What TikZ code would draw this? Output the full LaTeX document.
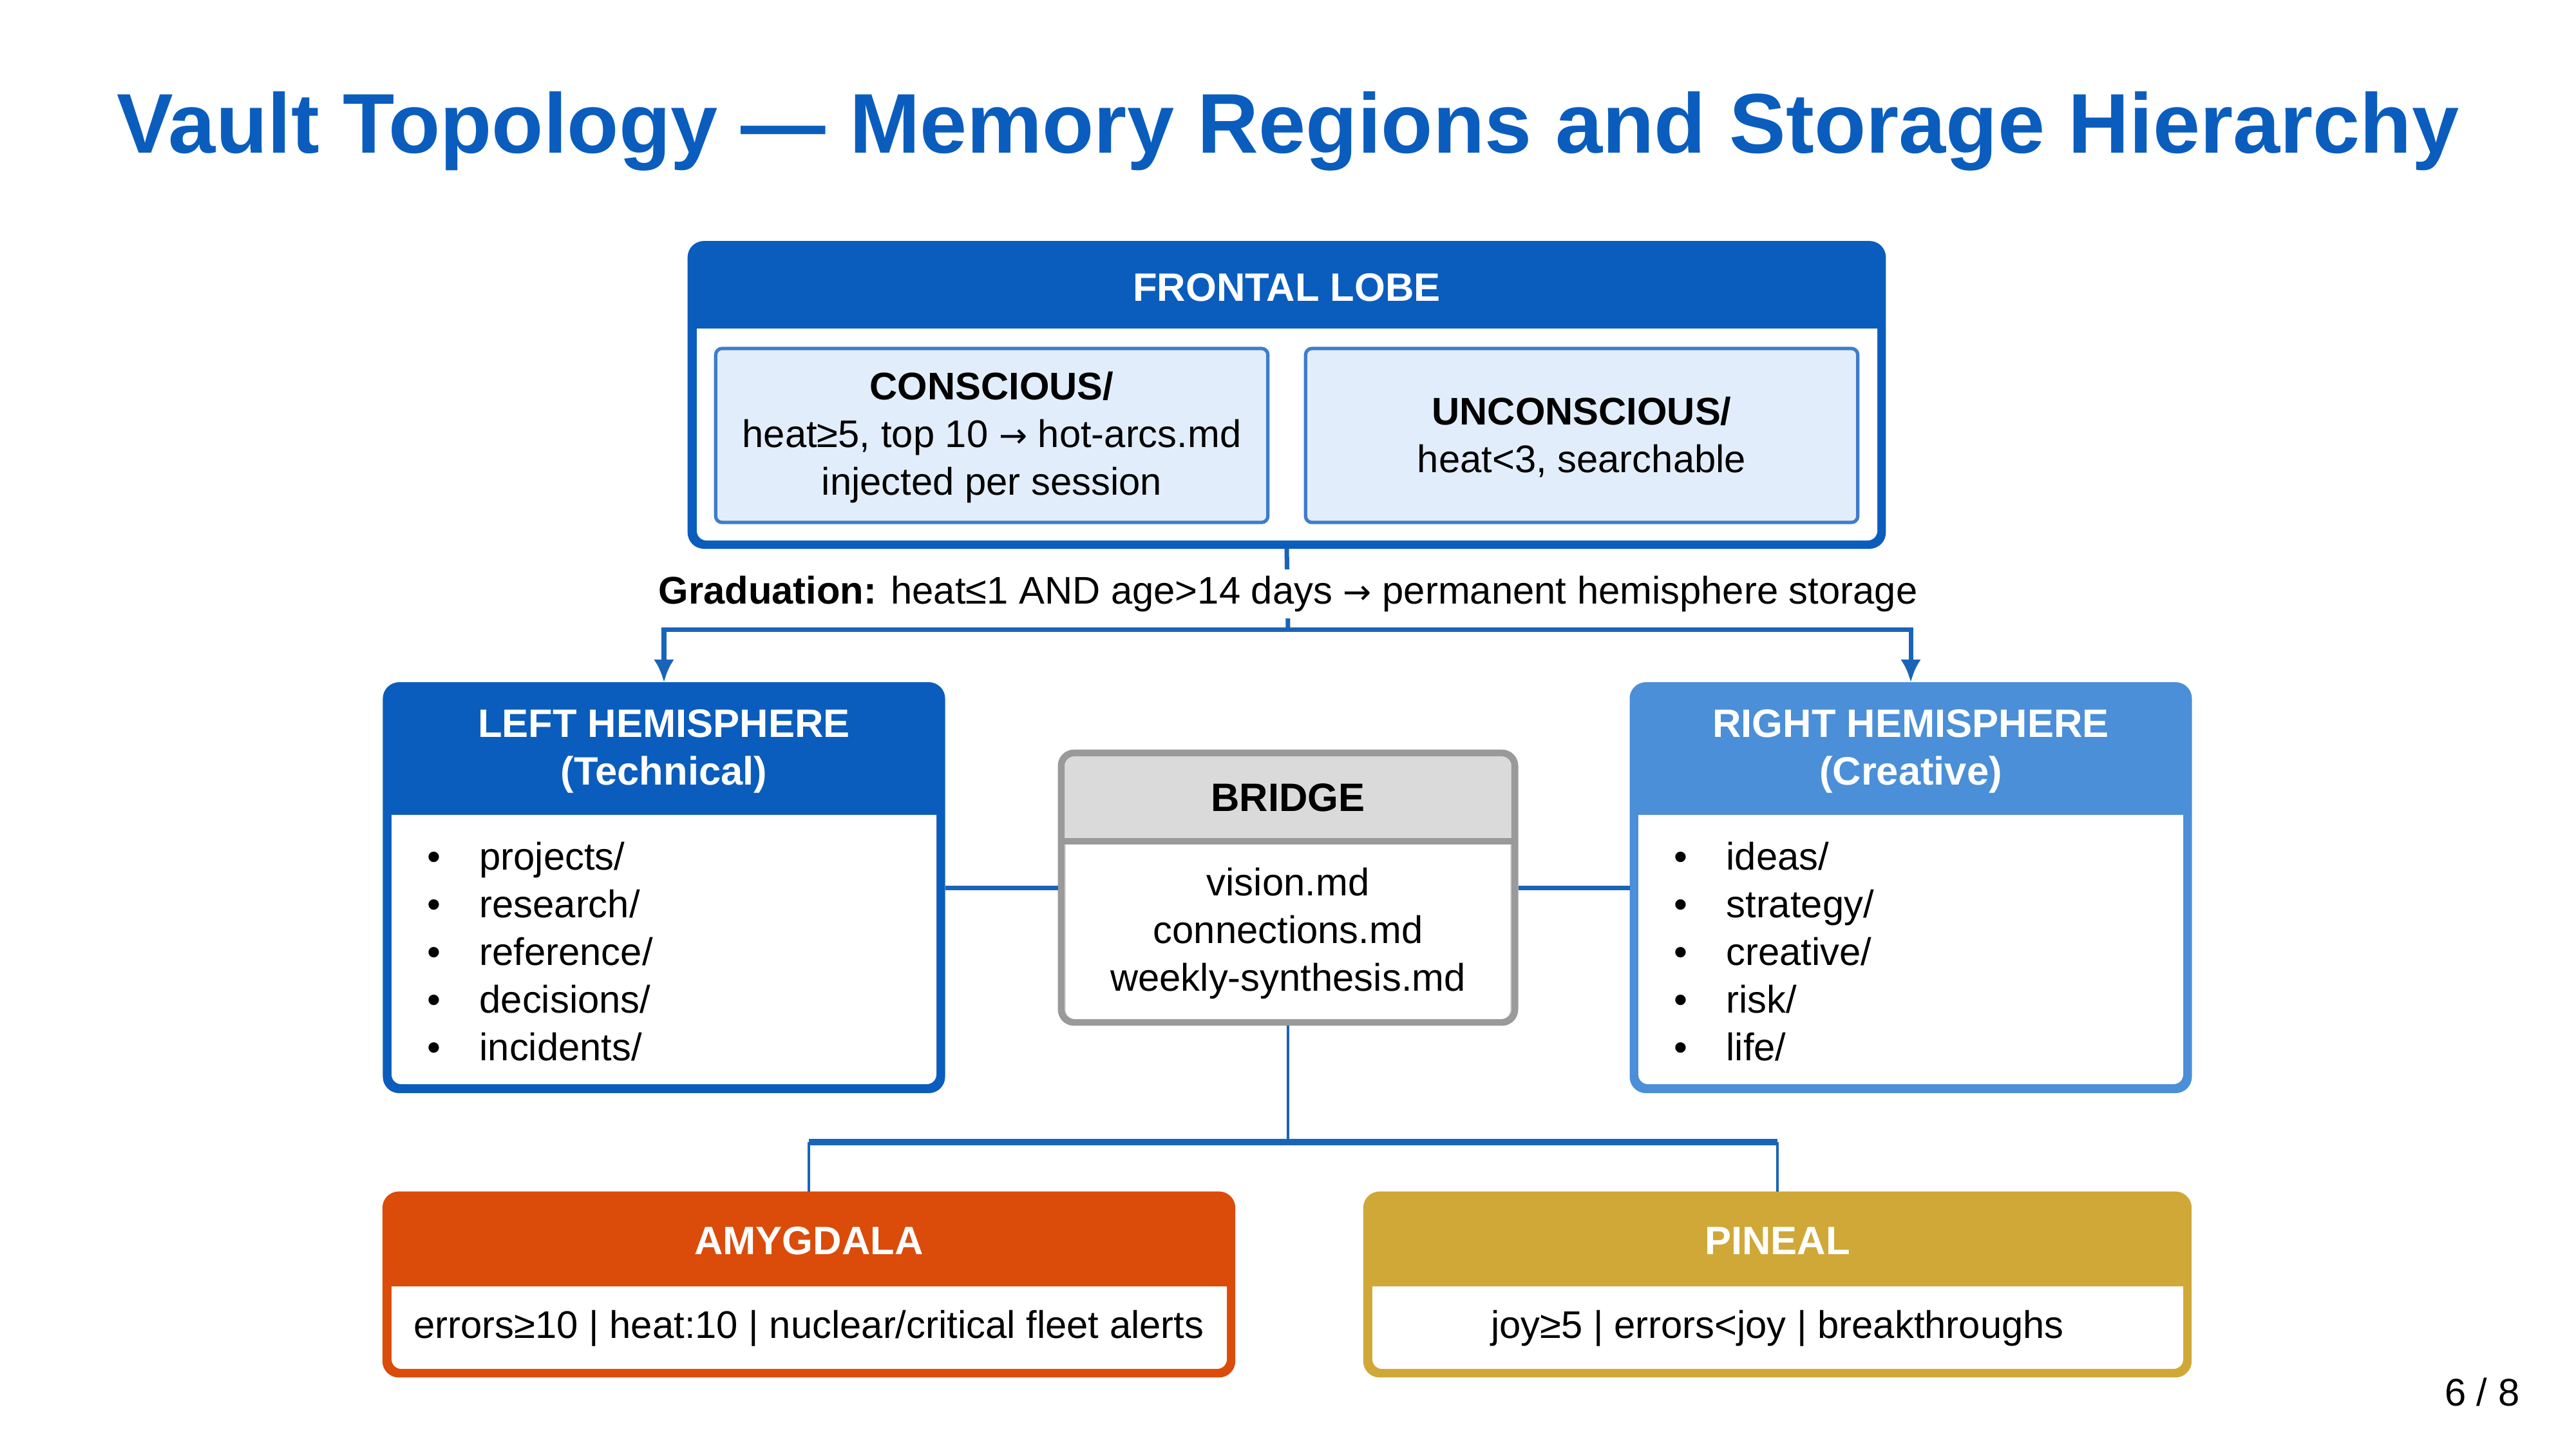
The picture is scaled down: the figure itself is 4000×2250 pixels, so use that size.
\documentclass[tikz,border=0pt]{standalone}
\usepackage{fontspec}
\setmainfont{Liberation Sans}
\newfontfamily\arrowfont{DejaVu Sans}
\usetikzlibrary{arrows.meta,calc}
\definecolor{fblue}{HTML}{0A5DBD}
\definecolor{rblue}{HTML}{4A8FD8}
\definecolor{lightbox}{HTML}{E2EDFB}
\definecolor{lightedge}{HTML}{3F7CCB}
\definecolor{bgray}{HTML}{DADADA}
\definecolor{bedge}{HTML}{9A9A9A}
\definecolor{amyg}{HTML}{DB4B0A}
\definecolor{pin}{HTML}{CFA838}
\definecolor{conn}{HTML}{1A64B8}
\tikzset{
  region/.style={rounded corners=0.2cm, line width=3pt, inner sep=0pt},
  hdrtext/.style={font=\bfseries\fontsize{17.5}{21}\selectfont, text=white, align=center, inner sep=0pt},
  bodytext/.style={font=\fontsize{17}{21}\selectfont, align=center, inner sep=0pt},
  listtext/.style={font=\fontsize{17}{21}\selectfont, align=left, inner sep=0pt, anchor=west},
  connline/.style={draw=conn, line width=2pt},
  thinconn/.style={draw=conn, line width=1.2pt},
  arr/.style={-{Latex[length=10pt,width=9pt]}},
}
\newcommand{\bul}[1]{\makebox[23pt][l]{•}#1}
\newcommand{\rarr}{{\arrowfont\fontsize{15}{21}\selectfont →}}
\begin{document}
\begin{tikzpicture}[x=0.01cm,y=-0.01cm]
\useasboundingbox (0,0) rectangle (4000,2250);
\fill[white] (0,0) rectangle (4000,2250);

% title
\node[font=\bfseries\fontsize{37.4}{45}\selectfont, text=fblue, inner sep=0pt] (title) at (2000,204) {Vault Topology — Memory Regions and Storage Hierarchy};

% ---------- connector junctions ----------
\coordinate (gj) at (2000,977);
\coordinate (bj) at (2000,1773);

% ---------- FRONTAL LOBE ----------
\node[region, draw=fblue, fill=fblue, minimum width=18.49cm, minimum height=4.67cm] (frontal) at (1998,613) {};
\fill[white] (1082,510) -- (2915,510) {[rounded corners=0.15cm] -- (2915,839) -- (1082,839)} -- cycle;
\node[hdrtext] (frontalhdr) at (1998,446) {FRONTAL LOBE};
\node[rounded corners=0.1cm, draw=lightedge, fill=lightbox, line width=1.5pt, minimum width=8.57cm, minimum height=2.70cm] (conscious) at (1540,676) {};
\node[bodytext] (consciousT) at (1540,679) {\textbf{CONSCIOUS/}\\heat≥5, top 10 \rarr{} hot-arcs.md\\injected per session};
\node[rounded corners=0.1cm, draw=lightedge, fill=lightbox, line width=1.5pt, minimum width=8.57cm, minimum height=2.70cm] (unconscious) at (2456,676) {};
\node[bodytext] (unconsciousT) at (2456,679) {\textbf{UNCONSCIOUS/}\\heat<3, searchable};

% ---------- LEFT HEMISPHERE ----------
\node[region, draw=fblue, fill=fblue, minimum width=8.62cm, minimum height=6.27cm] (lh) at (1031,1378) {};
\fill[white] (608,1265) -- (1454,1265) {[rounded corners=0.15cm] -- (1454,1683) -- (608,1683)} -- cycle;
\node[hdrtext] (lhT) at (1031,1166) {LEFT HEMISPHERE\\(Technical)};
\node[listtext] (lhL) at (663,1477) {\bul{projects/}\\\bul{research/}\\\bul{reference/}\\\bul{decisions/}\\\bul{incidents/}};

% ---------- RIGHT HEMISPHERE ----------
\node[region, draw=rblue, fill=rblue, minimum width=8.62cm, minimum height=6.27cm] (rh) at (2967,1378) {};
\fill[white] (2544,1265) -- (3390,1265) {[rounded corners=0.15cm] -- (3390,1683) -- (2544,1683)} -- cycle;
\node[hdrtext] (rhT) at (2967,1166) {RIGHT HEMISPHERE\\(Creative)};
\node[listtext] (rhL) at (2599,1477) {\bul{ideas/}\\\bul{strategy/}\\\bul{creative/}\\\bul{risk/}\\\bul{life/}};

% ---------- BRIDGE ----------
\node[region, draw=bedge, fill=bgray, minimum width=7.04cm, minimum height=4.18cm] (bridge) at (2000,1378) {};
\fill[white] (1655,1306) -- (2345,1306) {[rounded corners=0.15cm] -- (2345,1582) -- (1655,1582)} -- cycle;
\draw[bedge, line width=3pt] (1650,1306) -- (2350,1306);
\node[font=\bfseries\fontsize{17.5}{21}\selectfont, inner sep=0pt] (bridgeT) at (2000,1238) {BRIDGE};
\node[bodytext] (bridgeB) at (2000,1449) {vision.md\\connections.md\\weekly-synthesis.md};

% ---------- AMYGDALA ----------
\node[region, draw=amyg, fill=amyg, minimum width=13.13cm, minimum height=2.78cm] (amygdala) at (1256,1994) {};
\fill[white] (608,1997) -- (1905,1997) {[rounded corners=0.15cm] -- (1905,2125) -- (608,2125)} -- cycle;
\node[hdrtext] (amygT) at (1256,1926) {AMYGDALA};
\node[bodytext] (amygB) at (1256,2062) {errors≥10 | heat:10 | nuclear/critical fleet alerts};

% ---------- PINEAL ----------
\node[region, draw=pin, fill=pin, minimum width=12.75cm, minimum height=2.78cm] (pineal) at (2760,1994) {};
\fill[white] (2131,1997) -- (3390,1997) {[rounded corners=0.15cm] -- (3390,2125) -- (2131,2125)} -- cycle;
\node[hdrtext] (pinT) at (2760,1926) {PINEAL};
\node[bodytext] (pinB) at (2760,2062) {joy≥5 | errors<joy | breakthroughs};

% ---------- connectors ----------
\draw[connline] (frontal.south) -- (gj);
\draw[connline, arr] (gj) -| (lh.north);
\draw[connline, arr] (gj) -| (rh.north);
\node[font=\fontsize{17}{21}\selectfont, fill=white, inner sep=3pt] (grad) at (2000,922) {\textbf{Graduation:} heat≤1 AND age>14 days \rarr{} permanent hemisphere storage};

\draw[connline] (lh.east) -- (bridge.west);
\draw[connline] (bridge.east) -- (rh.west);

\draw[thinconn] (bridge.south) -- (bj);
\draw[connline, line width=2.6pt] (amygdala.north |- bj) -- (pineal.north |- bj);
\draw[thinconn] (amygdala.north |- bj) -- (amygdala.north);
\draw[thinconn] (pineal.north |- bj) -- (pineal.north);

% page number
\node[font=\fontsize{17}{21}\selectfont, anchor=east, inner sep=0pt] (pagenum) at (3913,2161) {6 / 8};
\end{tikzpicture}
\end{document}
